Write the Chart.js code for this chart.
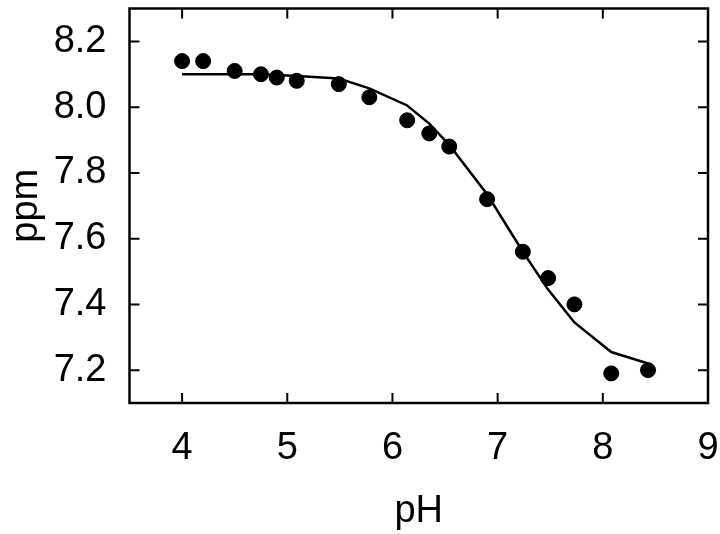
<!DOCTYPE html>
<html>
<head>
<meta charset="utf-8">
<script src="https://cdn.jsdelivr.net/npm/chart.js@4/dist/chart.umd.min.js"></script>
<style>
  html, body { margin: 0; padding: 0; background: #fff; }
  #wrap { width: 720px; height: 534px; }
</style>
</head>
<body>
<div id="wrap"><canvas id="myChart" width="720" height="534"></canvas></div>
<script>
// measured points
const phValues = [4.0, 4.2, 4.5, 4.75, 4.9, 5.09, 5.49, 5.78, 6.14, 6.35, 6.54, 6.9, 7.24, 7.48, 7.73, 8.08, 8.43];
const ppmValues = [8.14, 8.14, 8.11, 8.10, 8.09, 8.08, 8.07, 8.03, 7.96, 7.92, 7.88, 7.72, 7.56, 7.48, 7.40, 7.19, 7.20];

// fitted curve
const fitPh = [4.0, 4.2, 4.5, 4.75, 4.9, 5.09, 5.49, 5.78, 6.14, 6.35, 6.54, 6.9, 7.24, 7.48, 7.73, 8.08, 8.43];
const fitPpm = [8.10, 8.10, 8.10, 8.10, 8.098, 8.095, 8.087, 8.057, 8.005, 7.95, 7.885, 7.735, 7.56, 7.445, 7.345, 7.255, 7.22];

const xTicks = [4, 5, 6, 7, 8, 9];
const yTicks = [7.2, 7.4, 7.6, 7.8, 8.0, 8.2];

const font = 'Liberation Sans, Arial, sans-serif';

// box around the plot with inward ticks on every side
const framePlugin = {
    id: 'frame',
    afterDraw(chart) {
        const { ctx, chartArea: a, scales } = chart;
        const len = 10;
        ctx.save();
        ctx.strokeStyle = '#000';
        ctx.lineWidth = 2;
        ctx.beginPath();
        xTicks.forEach((v) => {
            const px = scales.x.getPixelForValue(v);
            ctx.moveTo(px, a.bottom); ctx.lineTo(px, a.bottom - len);
            ctx.moveTo(px, a.top); ctx.lineTo(px, a.top + len);
        });
        yTicks.forEach((v) => {
            const py = scales.y.getPixelForValue(v);
            ctx.moveTo(a.left, py); ctx.lineTo(a.left + len, py);
            ctx.moveTo(a.right, py); ctx.lineTo(a.right - len, py);
        });
        ctx.stroke();
        ctx.lineWidth = 2.5;
        ctx.strokeRect(a.left, a.top, a.right - a.left, a.bottom - a.top);
        ctx.restore();
    }
};

const noPad = (scale) => {
    scale.paddingTop = 0;
    scale.paddingBottom = 0;
    scale.paddingLeft = 0;
    scale.paddingRight = 0;
};

const ctx = document.querySelector('#myChart');

new Chart(ctx, {
    type: 'scatter',
    data: {
        datasets: [
            {
                label: 'fit',
                data: fitPh.map((x, i) => ({ x: x, y: fitPpm[i] })),
                showLine: true,
                borderColor: '#000',
                borderWidth: 2.5,
                pointRadius: 0,
                tension: 0,
                order: 2
            },
            {
                label: 'data',
                data: phValues.map((x, i) => ({ x: x, y: ppmValues[i] })),
                backgroundColor: '#000',
                borderColor: '#000',
                pointRadius: 7.5,
                pointHoverRadius: 7.5,
                order: 1
            }
        ]
    },
    options: {
        responsive: false,
        animation: false,
        layout: { padding: { top: 4, right: 12, left: 0, bottom: 0 } },
        plugins: {
            legend: { display: false },
            tooltip: { enabled: false }
        },
        scales: {
            x: {
                type: 'linear',
                min: 3.5,
                max: 9,
                afterBuildTicks: (scale) => { scale.ticks = xTicks.map((v) => ({ value: v })); },
                afterFit: (scale) => { scale.height = 131; noPad(scale); },
                grid: { display: false, drawTicks: false },
                border: { display: false },
                ticks: {
                    color: '#000',
                    padding: 23,
                    font: { family: font, size: 38 }
                },
                title: {
                    display: true,
                    text: 'pH',
                    color: '#000',
                    font: { family: font, size: 38 },
                    padding: { top: 0, bottom: 0 }
                }
            },
            y: {
                type: 'linear',
                min: 7.1,
                max: 8.3,
                afterBuildTicks: (scale) => { scale.ticks = yTicks.map((v) => ({ value: v })); },
                afterFit: (scale) => { scale.width = 129.5; noPad(scale); },
                grid: { display: false, drawTicks: false },
                border: { display: false },
                ticks: {
                    color: '#000',
                    padding: 23,
                    font: { family: font, size: 38 },
                    callback: (v) => v.toFixed(1)
                },
                title: {
                    display: true,
                    text: 'ppm',
                    color: '#000',
                    font: { family: font, size: 38 },
                    padding: { top: 4, bottom: 0 }
                }
            }
        }
    },
    plugins: [framePlugin]
});
</script>
</body>
</html>
